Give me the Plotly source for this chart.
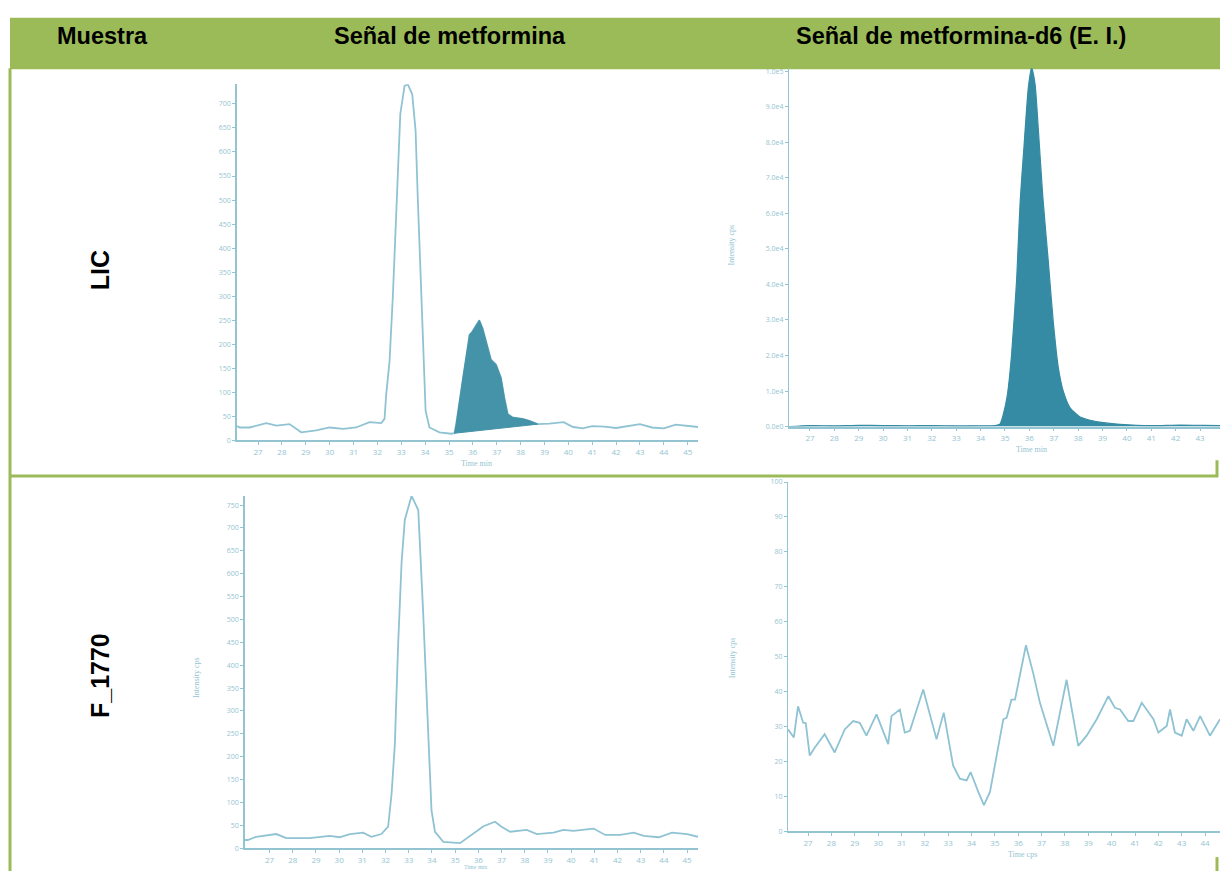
import plotly.graph_objects as go

W, H = 1220, 875

# ---------------- data ----------------
headers = ["Muestra", "Señal de metformina", "Señal de metformina-d6 (E. I.)"]
samples = ["LIC", "F_1770"]

# LIC - metformina (main trace)
lic_met_t = [26.12, 26.23, 26.65, 27.35, 27.77, 28.32, 28.81, 29.44, 30.0, 30.56, 31.11, 31.67, 32.16, 32.3,
             32.37, 32.51, 32.65, 32.76, 32.86, 32.96, 33.14, 33.28, 33.46, 33.6, 33.69, 33.79, 33.9, 34.02,
             34.18, 34.6, 35.09, 35.23, 35.3, 35.58, 35.86, 35.97, 36.27, 36.41, 36.69, 36.76, 36.97, 37.18,
             37.32, 37.46, 37.67, 38.09, 38.37, 38.72, 39.2, 39.8, 40.2, 40.6, 41.0, 41.5, 42.0, 42.5, 43.0,
             43.5, 44.0, 44.5, 45.0, 45.43]
lic_met_i = [30, 27, 27, 36, 31, 34, 17, 21, 27, 24, 27, 38, 36, 45,
             96, 165, 302, 439, 576, 679, 738, 740, 720, 645, 508, 371, 199, 62,
             27, 17, 14, 15, 34, 130, 220, 226, 250, 233, 185, 168, 158, 130,
             89, 55, 48, 45, 41, 34, 35, 38, 28, 25, 30, 29, 26, 30, 34,
             27, 25, 33, 30, 28]
# integrated peak of LIC - metformina
lic_met_peak_t = [35.23, 35.3, 35.58, 35.86, 35.97, 36.27, 36.41, 36.69, 36.76, 36.97, 37.18, 37.32,
                  37.46, 37.67, 38.09, 38.37, 38.72]
lic_met_peak_i = [15, 34, 130, 220, 226, 250, 233, 185, 168, 158, 130, 89, 55, 48, 45, 41, 34]

# LIC - metformina-d6
lic_d6_t = [26.14, 27.0, 28.0, 29.0, 30.0, 31.0, 32.0, 33.0, 34.0, 34.6, 34.79, 34.93, 35.1, 35.27, 35.48,
            35.62, 35.78, 35.96, 36.09, 36.23, 36.37, 36.55, 36.78, 36.98, 37.19, 37.39, 37.67, 38.08,
            38.49, 39.03, 39.72, 40.4, 41.09, 42.18, 43.14, 43.82]
lic_d6_i = [0, 300, 200, 350, 300, 250, 300, 200, 250, 300, 650, 3400, 9000, 20200, 41600,
            63000, 78800, 95500, 101000, 96500, 83400, 64800, 46200, 29500, 16500, 10000, 5300, 2700,
            1800, 1100, 650, 370, 280, 460, 370, 280]

# F_1770 - metformina
f_met_t = [25.94, 26.06, 26.42, 27.29, 27.72, 28.73, 29.59, 30.02, 30.46, 31.03, 31.39, 31.82, 32.11,
           32.26, 32.4, 32.54, 32.69, 32.83, 33.12, 33.41, 33.62, 33.84, 33.98, 34.13, 34.49, 35.21,
           35.78, 36.22, 36.72, 37.0, 37.37, 38.09, 38.52, 39.24, 39.67, 40.1, 40.97, 41.47, 42.12,
           42.7, 43.13, 43.78, 44.35, 45.0, 45.47]
f_met_i = [18, 18, 25, 31, 22, 22, 27, 24, 31, 34, 25, 31, 47,
           119, 227, 443, 624, 718, 770, 739, 516, 227, 83, 36, 14, 11,
           32, 48, 58, 47, 36, 40, 31, 34, 40, 38, 43, 29, 29,
           34, 27, 24, 34, 31, 25]

# F_1770 - metformina-d6
f_d6_t = [26.14, 26.39, 26.57, 26.79, 26.9, 27.07, 27.29, 27.71, 28.14, 28.57, 28.93, 29.21, 29.5, 29.93,
          30.43, 30.57, 30.93, 31.14, 31.36, 31.93, 32.5, 32.81, 33.21, 33.5, 33.79, 33.96, 34.29, 34.53,
          34.79, 35.14, 35.36, 35.5, 35.71, 35.86, 36.33, 36.64, 36.93, 37.5, 38.07, 38.57, 38.93, 39.36,
          39.86, 40.14, 40.36, 40.71, 40.93, 41.29, 41.79, 42.0, 42.36, 42.5, 42.71, 43.0, 43.21, 43.5,
          43.79, 44.21, 44.64]
f_d6_i = [29.2, 26.9, 35.8, 31.1, 31.0, 21.7, 24.0, 27.8, 22.6, 29.2, 31.6, 31.1, 27.4, 33.5,
          25.0, 33.0, 34.9, 28.3, 28.8, 40.6, 26.4, 34.0, 18.9, 15.1, 14.6, 17.0, 11.3, 7.5,
          11.3, 24.5, 32.1, 32.5, 37.7, 37.7, 53.3, 45.3, 36.8, 24.5, 43.4, 24.5, 27.4, 32.1,
          38.7, 35.4, 34.9, 31.6, 31.6, 36.8, 32.1, 28.3, 30.2, 34.9, 28.3, 27.4, 32.1, 28.8,
          33.0, 27.4, 32.1]

# tick labels
met_x_ticks = list(range(27, 46))
d6_top_x_ticks = list(range(27, 44))
d6_bot_x_ticks = list(range(27, 45))
lic_met_y_ticks = list(range(0, 701, 50))
f_met_y_ticks = list(range(0, 751, 50))
lic_d6_y_ticks = [0, 10000, 20000, 30000, 40000, 50000, 60000, 70000, 80000, 90000, 100000]
lic_d6_y_text = ["0.0e0", "1.0e4", "2.0e4", "3.0e4", "4.0e4", "5.0e4", "6.0e4", "7.0e4", "8.0e4", "9.0e4", "1.0e5"]
f_d6_y_ticks = list(range(0, 101, 10))

# ---------------- style ----------------
GREEN = "#9bbb59"
LINE = "#8fc3d3"
AXIS = "#92c4d2"
TICKC = "#94c4d2"
FILL1 = "#4593a9"
FILL2 = "#358ba3"


def px(x):
    return x / W


def py(y):
    return 1 - y / H


fig = go.Figure()

fig.add_trace(go.Scatter(x=lic_met_t, y=lic_met_i, mode="lines", line=dict(color=LINE, width=1.8),
                         xaxis="x", yaxis="y", hoverinfo="skip"))
poly_t = lic_met_peak_t + [lic_met_peak_t[-1], lic_met_peak_t[0]]
poly_i = lic_met_peak_i + [lic_met_peak_i[-1], lic_met_peak_i[0]]
fig.add_trace(go.Scatter(x=poly_t, y=poly_i, mode="lines", fill="toself", fillcolor=FILL1,
                         line=dict(color=FILL1, width=1), xaxis="x", yaxis="y", hoverinfo="skip"))

fig.add_trace(go.Scatter(x=lic_d6_t, y=lic_d6_i, mode="lines", fill="tozeroy", fillcolor=FILL2,
                         line=dict(color=FILL2, width=1.2, shape="spline", smoothing=0.6),
                         xaxis="x2", yaxis="y2", hoverinfo="skip"))

fig.add_trace(go.Scatter(x=f_met_t, y=f_met_i, mode="lines", line=dict(color=LINE, width=1.8),
                         xaxis="x3", yaxis="y3", hoverinfo="skip"))

fig.add_trace(go.Scatter(x=f_d6_t, y=f_d6_i, mode="lines", line=dict(color=LINE, width=1.8),
                         xaxis="x4", yaxis="y4", hoverinfo="skip"))


def xax(dom, rng, ticks, anchor):
    return dict(domain=[px(dom[0]), px(dom[1])], range=rng, anchor=anchor, showgrid=False, zeroline=False,
                showline=True, linecolor=AXIS, linewidth=1.5, ticks="outside", ticklen=3, tickcolor=AXIS,
                tickvals=ticks, ticktext=[str(t) for t in ticks], tickfont=dict(size=8, color=TICKC),
                fixedrange=True)


def yax(dom, rng, ticks, anchor, text=None, lw=1.8):
    return dict(domain=[py(dom[1]), py(dom[0])], range=rng, anchor=anchor, showgrid=False, zeroline=False,
                showline=True, linecolor=AXIS, linewidth=lw, ticks="outside", ticklen=3, tickcolor=AXIS,
                tickvals=ticks, ticktext=text if text else [str(t) for t in ticks],
                tickfont=dict(size=7, color=TICKC), fixedrange=True)


fig.update_layout(
    width=W, height=H, margin=dict(l=0, r=0, t=0, b=0), showlegend=False,
    paper_bgcolor="white", plot_bgcolor="rgba(0,0,0,0)",
    xaxis=xax((237, 698), [26.12, 45.43], met_x_ticks, "y"),
    yaxis=yax((80, 440), [0, 741], lic_met_y_ticks, "x"),
    xaxis2=xax((789, 1220), [26.14, 43.82], d6_top_x_ticks, "y2"),
    yaxis2=yax((64, 426), [0, 100800], lic_d6_y_ticks, "x2", lic_d6_y_text, lw=1.2),
    xaxis3=xax((245, 698), [25.94, 45.47], met_x_ticks, "y3"),
    yaxis3=yax((496, 852), [0, 770], f_met_y_ticks, "x3"),
    xaxis4=xax((788, 1220), [26.14, 44.64], d6_bot_x_ticks, "y4"),
    yaxis4=yax((482, 835), [0, 100], f_d6_y_ticks, "x4", lw=1.2),
)

shapes = [
    dict(type="rect", xref="paper", yref="paper", x0=px(10), x1=px(1220), y0=py(65), y1=py(13),
         fillcolor=GREEN, line=dict(width=0), layer="below"),
    dict(type="line", xref="paper", yref="paper", x0=px(10), x1=px(10), y0=py(64), y1=py(875),
         line=dict(color=GREEN, width=3)),
    dict(type="line", xref="paper", yref="paper", x0=px(10), x1=px(1218), y0=py(476), y1=py(476),
         line=dict(color=GREEN, width=3)),
    dict(type="line", xref="paper", yref="paper", x0=px(1217), x1=px(1217), y0=py(460), y1=py(477),
         line=dict(color=GREEN, width=3)),
    dict(type="line", xref="paper", yref="paper", x0=px(1217), x1=px(1217), y0=py(861), y1=py(875),
         line=dict(color=GREEN, width=3)),
]
fig.update_layout(shapes=shapes)

ann = []
hfont = dict(family="Liberation Sans, Arial, sans-serif", size=23.5, color="black")
rfont = dict(family="Liberation Sans, Arial, sans-serif", size=25, color="black")
for txt, cx in zip(headers, [102, 450, 961]):
    ann.append(dict(text="<b>" + txt + "</b>", x=px(cx), y=py(31), xref="paper", yref="paper",
                    showarrow=False, xanchor="center", yanchor="middle", font=hfont))
for txt, cy in zip(samples, [268, 677]):
    ann.append(dict(text="<b>" + txt + "</b>", x=px(100), y=py(cy), xref="paper", yref="paper",
                    showarrow=False, textangle=-90, xanchor="center", yanchor="middle", font=rfont))

sfont = dict(family="Liberation Serif, serif", size=8, color=TICKC)
for txt, cx, cy in [("Time min", 476, 463), ("Time min", 1031, 449), ("Time cps", 1022, 858)]:
    ann.append(dict(text=txt, x=px(cx), y=py(cy), xref="paper", yref="paper", showarrow=False,
                    xanchor="center", yanchor="middle", font=sfont))
ann.append(dict(text="Time min", x=px(475), y=0, xref="paper", yref="paper", showarrow=False,
                xanchor="center", yanchor="bottom", borderpad=0,
                font=dict(family="Liberation Serif, serif", size=6, color=TICKC)))
for cx, cy in [(732, 243), (732, 660), (196, 680)]:
    ann.append(dict(text="Intensity cps", x=px(cx), y=py(cy), xref="paper", yref="paper", showarrow=False,
                    textangle=-90, xanchor="center", yanchor="middle", font=sfont))
fig.update_layout(annotations=ann)

fig.write_html("out.html", config={"displayModeBar": False},
               post_script="document.body.style.margin='0';document.body.style.padding='0';")
